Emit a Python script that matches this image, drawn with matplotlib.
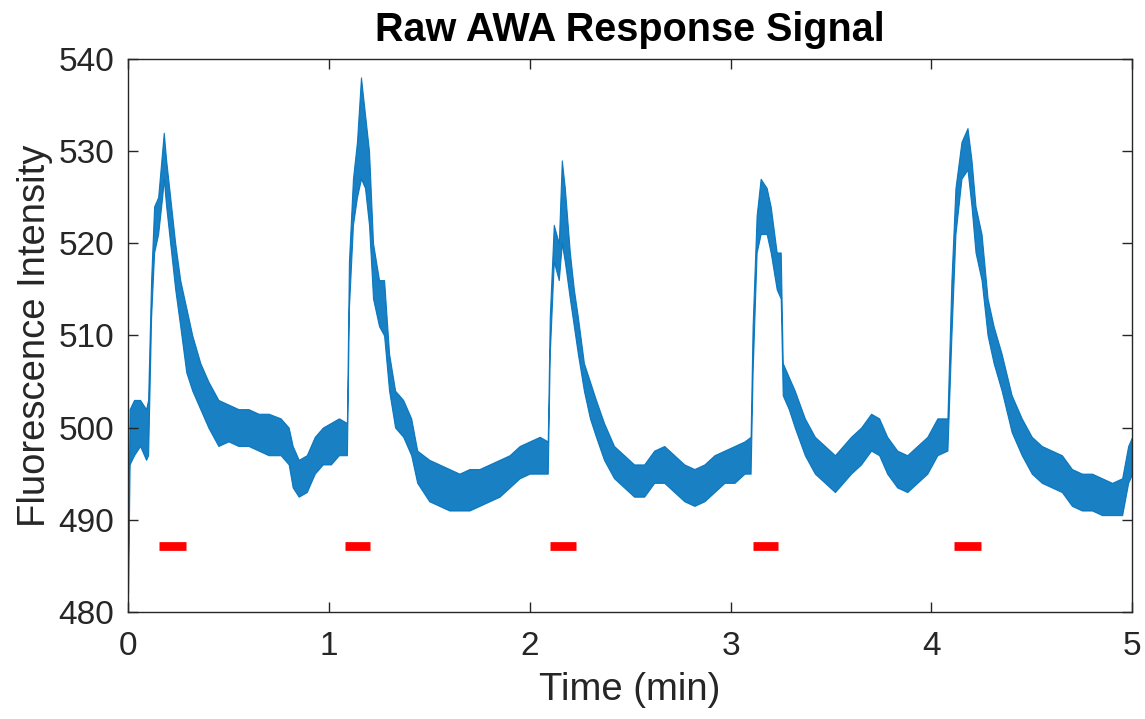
import matplotlib
matplotlib.use("Agg")
import matplotlib.pyplot as plt

# envelope of the raw trace (time in min, low / high intensity)
t_min = [0.000, 0.008, 0.03, 0.06, 0.09, 0.10, 0.115, 0.13, 0.15, 0.17, 0.178, 0.19, 0.21, 0.235,
         0.26, 0.29, 0.32, 0.36, 0.40, 0.45, 0.50, 0.55, 0.60, 0.65, 0.70, 0.76, 0.80, 0.82,
         0.85, 0.89, 0.93, 0.97, 1.01, 1.05, 1.09, 1.10, 1.12, 1.14, 1.16, 1.18, 1.20, 1.22,
         1.25, 1.275, 1.30, 1.33, 1.37, 1.41, 1.44, 1.50, 1.55, 1.60, 1.65, 1.70, 1.75, 1.80,
         1.85, 1.90, 1.95, 2.00, 2.05, 2.09, 2.10, 2.12, 2.145, 2.16, 2.175, 2.20, 2.22, 2.24,
         2.27, 2.30, 2.33, 2.37, 2.42, 2.47, 2.52, 2.57, 2.62, 2.67, 2.72, 2.77, 2.82, 2.87,
         2.92, 2.97, 3.02, 3.07, 3.10, 3.11, 3.13, 3.15, 3.18, 3.20, 3.23, 3.25, 3.26, 3.29,
         3.32, 3.37, 3.42, 3.47, 3.52, 3.56, 3.60, 3.65, 3.70, 3.74, 3.78, 3.83, 3.88, 3.93,
         3.98, 4.03, 4.08, 4.10, 4.12, 4.15, 4.18, 4.20, 4.22, 4.25, 4.28, 4.31, 4.35, 4.40,
         4.45, 4.50, 4.55, 4.60, 4.65, 4.70, 4.75, 4.80, 4.85, 4.90, 4.95, 4.98, 5.00]
sig_low = [482, 496, 497, 498, 496.5, 497, 512, 519, 521, 525, 527, 524, 520, 515,
           511, 506, 504, 502, 500, 498, 498.5, 498, 498, 497.5, 497, 497, 496, 493.5,
           492.5, 493, 495, 496, 496, 497, 497, 513, 522, 525, 527, 526, 522, 514,
           511, 510, 504, 500, 499, 497, 494, 492, 491.5, 491, 491, 491, 491.5, 492,
           492.5, 493.5, 494.5, 495, 495, 495, 508, 518, 516, 520, 518, 514, 511, 508,
           504, 501, 499, 496.5, 494.5, 493.5, 492.5, 492.5, 494, 494, 493, 492, 491.5, 492,
           493, 494, 494, 495, 495, 506, 519, 521, 521, 519, 515, 514, 503.5, 502,
           500, 497, 495, 494, 493, 494, 495, 496, 497.5, 497, 495, 493.5, 493, 494,
           495, 497, 497.5, 510, 521, 527, 528, 524, 519, 516, 510, 507, 504, 499.5,
           497, 495, 494, 493.5, 493, 491.5, 491, 491, 490.5, 490.5, 490.5, 494, 495]
sig_high = [486, 502, 503, 503, 502, 503, 516, 524, 525, 530, 532, 529, 525, 520,
            516, 513, 510, 507, 505, 503, 502.5, 502, 502, 501.5, 501.5, 501, 500, 498,
            496.5, 497, 499, 500, 500.5, 501, 500.5, 518, 527, 531, 538, 534, 530, 520,
            516, 516, 508, 504, 503, 501, 497.5, 496.5, 496, 495.5, 495, 495.5, 495.5, 496,
            496.5, 497, 498, 498.5, 499, 498.5, 512, 522, 520, 529, 526, 519, 515, 512,
            507, 505, 503, 500.5, 498, 497, 496, 496, 497.5, 498, 497, 496, 495.5, 496,
            497, 497.5, 498, 498.5, 499, 511, 523, 527, 526, 524, 519, 519, 507, 505.5,
            504, 501, 499, 498, 497, 498, 499, 500, 501.5, 501, 499, 497.5, 497, 498,
            499, 501, 501, 516, 526, 531, 532.5, 529, 524, 521, 514, 511, 508, 503.5,
            501, 499, 498, 497.5, 497, 495.5, 495, 495, 494.5, 494, 494.5, 498, 499]

# odor stimulus periods (red bars)
stim_start = [0.155, 1.08, 2.10, 3.11, 4.115]
stim_end = [0.288, 1.205, 2.23, 3.237, 4.248]
stim_level = 487.1

plt.rcParams["font.family"] = ["Liberation Sans", "DejaVu Sans"]

fig = plt.figure(figsize=(11.45, 7.19), dpi=100)
ax = fig.add_axes([0.1118, 0.149, 0.877, 0.769])

blue = "#0072BD"
ax.fill_between(t_min, sig_low, sig_high, color=blue, alpha=0.9, linewidth=0.8, edgecolor=blue)
ax.hlines([stim_level] * len(stim_start), stim_start, stim_end, color="red", linewidth=6.3)

ax.set_xlim(0, 5)
ax.set_ylim(480, 540)
ax.set_xticks([0, 1, 2, 3, 4, 5])
ax.set_yticks([480, 490, 500, 510, 520, 530, 540])

# MATLAB-like box with inward ticks on all sides
ax.tick_params(direction="in", length=7, width=1, top=True, right=True,
               labelsize=24, color="#262626", labelcolor="#262626")
ax.tick_params(axis="x", pad=14)
ax.tick_params(axis="y", pad=10)
for s in ax.spines.values():
    s.set_color("#262626")
    s.set_linewidth(1)

ax.set_xlabel("Time (min)", fontsize=27.5, color="#262626", labelpad=7)
ax.set_ylabel("Fluorescence Intensity", fontsize=27.5, color="#262626", labelpad=4)
ax.set_title("Raw AWA Response Signal", fontsize=28.5, fontweight="bold", pad=13)

fig.savefig("out.png", dpi=100)
plt.close(fig)
